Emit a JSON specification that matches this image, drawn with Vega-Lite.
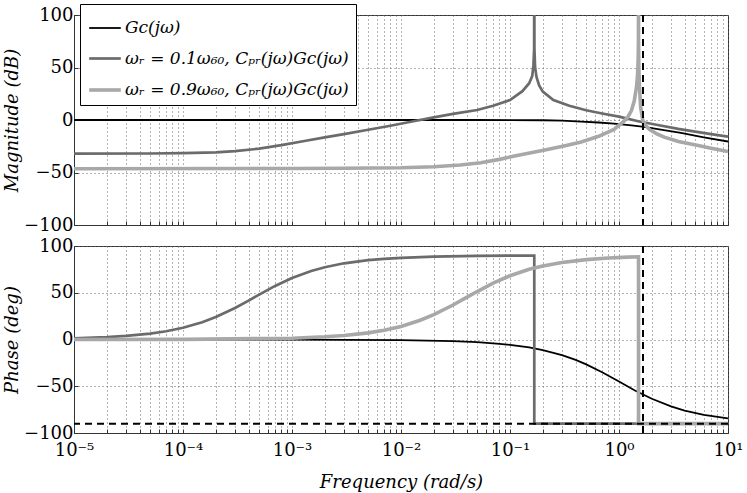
{
  "$schema": "https://vega.github.io/schema/vega-lite/v6.json",
  "padding": {"left": 3, "top": 3, "right": 4, "bottom": 0},
  "background": "white",
  "config": {
    "font": "DejaVu Serif",
    "view": {"stroke": "#333", "strokeWidth": 1},
    "concat": {"spacing": 1},
    "axis": {
      "labelFont": "DejaVu Serif", "labelFontSize": 18, "labelColor": "#000",
      "titleFont": "DejaVu Serif", "titleFontStyle": "italic", "titleFontWeight": "normal",
      "titleFontSize": 18, "titleColor": "#000",
      "gridColor": "#666", "gridDash": [1, 3], "gridOpacity": 1, "gridWidth": 1,
      "domainColor": "#333", "tickColor": "#333", "tickSize": -4
    },
    "legend": {
      "labelFont": "DejaVu Serif", "labelFontSize": 17, "labelFontStyle": "italic", "labelColor": "#000",
      "labelLimit": 500
    }
  },
  "datasets": {
    "mag": [
      {"s": "a", "i": 1, "w": 0.00001, "v": 0},
      {"s": "a", "i": 2, "w": 0.001, "v": 0},
      {"s": "a", "i": 3, "w": 0.05, "v": -0.01},
      {"s": "a", "i": 4, "w": 0.1, "v": -0.05},
      {"s": "a", "i": 5, "w": 0.2, "v": -0.25},
      {"s": "a", "i": 6, "w": 0.3, "v": -0.6},
      {"s": "a", "i": 7, "w": 0.45, "v": -1.5},
      {"s": "a", "i": 8, "w": 0.65, "v": -2.4},
      {"s": "a", "i": 9, "w": 0.9, "v": -3.5},
      {"s": "a", "i": 10, "w": 1.3, "v": -5.1},
      {"s": "a", "i": 11, "w": 1.7, "v": -6.6},
      {"s": "a", "i": 12, "w": 2.5, "v": -9.4},
      {"s": "a", "i": 13, "w": 3.7, "v": -12.3},
      {"s": "a", "i": 14, "w": 6, "v": -16.5},
      {"s": "a", "i": 15, "w": 10, "v": -20.5},

      {"s": "b", "i": 1, "w": 0.00001, "v": -32},
      {"s": "b", "i": 2, "w": 0.00005, "v": -31.9},
      {"s": "b", "i": 3, "w": 0.0001, "v": -31.6},
      {"s": "b", "i": 4, "w": 0.0002, "v": -30.8},
      {"s": "b", "i": 5, "w": 0.0003, "v": -29.7},
      {"s": "b", "i": 6, "w": 0.0005, "v": -27.3},
      {"s": "b", "i": 7, "w": 0.0008, "v": -24},
      {"s": "b", "i": 8, "w": 0.0013, "v": -20},
      {"s": "b", "i": 9, "w": 0.002, "v": -16.5},
      {"s": "b", "i": 10, "w": 0.003, "v": -13.5},
      {"s": "b", "i": 11, "w": 0.005, "v": -9.3},
      {"s": "b", "i": 12, "w": 0.008, "v": -5.5},
      {"s": "b", "i": 13, "w": 0.013, "v": -1.2},
      {"s": "b", "i": 14, "w": 0.02, "v": 2.5},
      {"s": "b", "i": 15, "w": 0.03, "v": 5.8},
      {"s": "b", "i": 16, "w": 0.05, "v": 9.5},
      {"s": "b", "i": 17, "w": 0.07, "v": 13.5},
      {"s": "b", "i": 18, "w": 0.1, "v": 19},
      {"s": "b", "i": 19, "w": 0.13, "v": 27.5},
      {"s": "b", "i": 20, "w": 0.15, "v": 35},
      {"s": "b", "i": 21, "w": 0.16, "v": 42},
      {"s": "b", "i": 22, "w": 0.164, "v": 52},
      {"s": "b", "i": 23, "w": 0.1665, "v": 68},
      {"s": "b", "i": 24, "w": 0.167, "v": 200},
      {"s": "b", "i": 25, "w": 0.1675, "v": 68},
      {"s": "b", "i": 26, "w": 0.17, "v": 50},
      {"s": "b", "i": 27, "w": 0.175, "v": 41},
      {"s": "b", "i": 28, "w": 0.185, "v": 33},
      {"s": "b", "i": 29, "w": 0.2, "v": 27},
      {"s": "b", "i": 30, "w": 0.25, "v": 19},
      {"s": "b", "i": 31, "w": 0.35, "v": 13.5},
      {"s": "b", "i": 32, "w": 0.5, "v": 9.3},
      {"s": "b", "i": 33, "w": 0.7, "v": 6.2},
      {"s": "b", "i": 34, "w": 1, "v": 3.2},
      {"s": "b", "i": 35, "w": 1.5, "v": -1.2},
      {"s": "b", "i": 36, "w": 2.2, "v": -4.5},
      {"s": "b", "i": 37, "w": 3.5, "v": -8.5},
      {"s": "b", "i": 38, "w": 5, "v": -11},
      {"s": "b", "i": 39, "w": 7, "v": -13.5},
      {"s": "b", "i": 40, "w": 10, "v": -15.8},

      {"s": "c", "i": 1, "w": 0.00001, "v": -46.4},
      {"s": "c", "i": 2, "w": 0.001, "v": -46.2},
      {"s": "c", "i": 3, "w": 0.003, "v": -46},
      {"s": "c", "i": 4, "w": 0.01, "v": -45.5},
      {"s": "c", "i": 5, "w": 0.02, "v": -44.5},
      {"s": "c", "i": 6, "w": 0.035, "v": -42.8},
      {"s": "c", "i": 7, "w": 0.054, "v": -40.7},
      {"s": "c", "i": 8, "w": 0.08, "v": -37.5},
      {"s": "c", "i": 9, "w": 0.11, "v": -34.3},
      {"s": "c", "i": 10, "w": 0.16, "v": -31},
      {"s": "c", "i": 11, "w": 0.22, "v": -28},
      {"s": "c", "i": 12, "w": 0.32, "v": -24.5},
      {"s": "c", "i": 13, "w": 0.45, "v": -21},
      {"s": "c", "i": 14, "w": 0.65, "v": -15.5},
      {"s": "c", "i": 15, "w": 0.9, "v": -9},
      {"s": "c", "i": 16, "w": 1.0, "v": -5},
      {"s": "c", "i": 17, "w": 1.1, "v": -1.5},
      {"s": "c", "i": 18, "w": 1.2, "v": 2.5},
      {"s": "c", "i": 19, "w": 1.3, "v": 9},
      {"s": "c", "i": 20, "w": 1.38, "v": 18},
      {"s": "c", "i": 21, "w": 1.45, "v": 32},
      {"s": "c", "i": 22, "w": 1.48, "v": 43},
      {"s": "c", "i": 23, "w": 1.5, "v": 58},
      {"s": "c", "i": 24, "w": 1.508, "v": 75},
      {"s": "c", "i": 25, "w": 1.51, "v": 200},
      {"s": "c", "i": 26, "w": 1.512, "v": 75},
      {"s": "c", "i": 27, "w": 1.52, "v": 50},
      {"s": "c", "i": 28, "w": 1.54, "v": 32},
      {"s": "c", "i": 29, "w": 1.58, "v": 12},
      {"s": "c", "i": 30, "w": 1.65, "v": 0},
      {"s": "c", "i": 31, "w": 1.75, "v": -5},
      {"s": "c", "i": 32, "w": 1.9, "v": -9},
      {"s": "c", "i": 33, "w": 2.2, "v": -13},
      {"s": "c", "i": 34, "w": 2.6, "v": -16.3},
      {"s": "c", "i": 35, "w": 3.5, "v": -20.5},
      {"s": "c", "i": 36, "w": 5.2, "v": -24},
      {"s": "c", "i": 37, "w": 7, "v": -26.8},
      {"s": "c", "i": 38, "w": 10, "v": -30}
    ],
    "phase": [
      {"s": "a", "i": 1, "w": 0.00001, "v": 0},
      {"s": "a", "i": 2, "w": 0.001, "v": -0.06},
      {"s": "a", "i": 3, "w": 0.01, "v": -0.6},
      {"s": "a", "i": 4, "w": 0.03, "v": -1.7},
      {"s": "a", "i": 5, "w": 0.05, "v": -2.9},
      {"s": "a", "i": 6, "w": 0.08, "v": -4.6},
      {"s": "a", "i": 7, "w": 0.1, "v": -5.7},
      {"s": "a", "i": 8, "w": 0.15, "v": -8.5},
      {"s": "a", "i": 9, "w": 0.2, "v": -11.3},
      {"s": "a", "i": 10, "w": 0.3, "v": -16.7},
      {"s": "a", "i": 11, "w": 0.4, "v": -21.8},
      {"s": "a", "i": 12, "w": 0.5, "v": -26.6},
      {"s": "a", "i": 13, "w": 0.7, "v": -35},
      {"s": "a", "i": 14, "w": 1, "v": -45},
      {"s": "a", "i": 15, "w": 1.4, "v": -54.5},
      {"s": "a", "i": 16, "w": 2, "v": -63.4},
      {"s": "a", "i": 17, "w": 3, "v": -71.6},
      {"s": "a", "i": 18, "w": 4, "v": -76},
      {"s": "a", "i": 19, "w": 6, "v": -80.5},
      {"s": "a", "i": 20, "w": 10, "v": -84.3},

      {"s": "b", "i": 1, "w": 0.00001, "v": 1.3},
      {"s": "b", "i": 2, "w": 0.000015, "v": 1.9},
      {"s": "b", "i": 3, "w": 0.00002, "v": 2.5},
      {"s": "b", "i": 4, "w": 0.00003, "v": 3.8},
      {"s": "b", "i": 5, "w": 0.00005, "v": 6.3},
      {"s": "b", "i": 6, "w": 0.00007, "v": 8.8},
      {"s": "b", "i": 7, "w": 0.0001, "v": 12.5},
      {"s": "b", "i": 8, "w": 0.00015, "v": 18.4},
      {"s": "b", "i": 9, "w": 0.0002, "v": 24},
      {"s": "b", "i": 10, "w": 0.0003, "v": 33.7},
      {"s": "b", "i": 11, "w": 0.0004, "v": 41.6},
      {"s": "b", "i": 12, "w": 0.0005, "v": 48},
      {"s": "b", "i": 13, "w": 0.0007, "v": 57.3},
      {"s": "b", "i": 14, "w": 0.001, "v": 65.8},
      {"s": "b", "i": 15, "w": 0.0015, "v": 73.3},
      {"s": "b", "i": 16, "w": 0.002, "v": 77.3},
      {"s": "b", "i": 17, "w": 0.003, "v": 81.5},
      {"s": "b", "i": 18, "w": 0.005, "v": 84.9},
      {"s": "b", "i": 19, "w": 0.007, "v": 86.3},
      {"s": "b", "i": 20, "w": 0.01, "v": 87.4},
      {"s": "b", "i": 21, "w": 0.02, "v": 88.7},
      {"s": "b", "i": 22, "w": 0.05, "v": 89.5},
      {"s": "b", "i": 23, "w": 0.167, "v": 89.8},
      {"s": "b", "i": 24, "w": 0.167, "v": -90},
      {"s": "b", "i": 25, "w": 1, "v": -90},
      {"s": "b", "i": 26, "w": 10, "v": -90},

      {"s": "c", "i": 1, "w": 0.00001, "v": 0},
      {"s": "c", "i": 2, "w": 0.0001, "v": 0.1},
      {"s": "c", "i": 3, "w": 0.001, "v": 1.4},
      {"s": "c", "i": 4, "w": 0.002, "v": 2.9},
      {"s": "c", "i": 5, "w": 0.003, "v": 4.3},
      {"s": "c", "i": 6, "w": 0.005, "v": 7.1},
      {"s": "c", "i": 7, "w": 0.007, "v": 9.9},
      {"s": "c", "i": 8, "w": 0.01, "v": 14},
      {"s": "c", "i": 9, "w": 0.015, "v": 20.6},
      {"s": "c", "i": 10, "w": 0.02, "v": 26.6},
      {"s": "c", "i": 11, "w": 0.03, "v": 36.9},
      {"s": "c", "i": 12, "w": 0.04, "v": 45},
      {"s": "c", "i": 13, "w": 0.05, "v": 51.3},
      {"s": "c", "i": 14, "w": 0.07, "v": 60.3},
      {"s": "c", "i": 15, "w": 0.1, "v": 68.2},
      {"s": "c", "i": 16, "w": 0.15, "v": 75.1},
      {"s": "c", "i": 17, "w": 0.2, "v": 78.7},
      {"s": "c", "i": 18, "w": 0.3, "v": 82.4},
      {"s": "c", "i": 19, "w": 0.5, "v": 85.4},
      {"s": "c", "i": 20, "w": 0.8, "v": 87.1},
      {"s": "c", "i": 21, "w": 1.2, "v": 88.1},
      {"s": "c", "i": 22, "w": 1.51, "v": 88.5},
      {"s": "c", "i": 23, "w": 1.51, "v": -90},
      {"s": "c", "i": 24, "w": 10, "v": -90}
    ]
  },
  "vconcat": [
    {
      "width": 654,
      "height": 210,
      "layer": [
        {
          "data": {"name": "mag"},
          "mark": {"type": "line", "clip": true},
          "encoding": {
            "x": {
              "field": "w", "type": "quantitative",
              "scale": {"type": "log", "domain": [0.00001, 10]},
              "axis": {
                "title": null, "labels": false, "labelOverlap": false, "labelPadding": 0,
                "values": [0.00001,0.00002,0.00003,0.00004,0.00005,0.00006,0.00007,0.00008,0.00009,0.0001,0.0002,0.0003,0.0004,0.0005,0.0006,0.0007,0.0008,0.0009,0.001,0.002,0.003,0.004,0.005,0.006,0.007,0.008,0.009,0.01,0.02,0.03,0.04,0.05,0.06,0.07,0.08,0.09,0.1,0.2,0.3,0.4,0.5,0.6,0.7,0.8,0.9,1,2,3,4,5,6,7,8,9,10]
              }
            },
            "y": {
              "field": "v", "type": "quantitative",
              "scale": {"domain": [-100, 100], "nice": false},
              "axis": {"title": "Magnitude (dB)", "values": [-100, -50, 0, 50, 100], "labelPadding": 5, "titlePadding": 2}
            },
            "color": {
              "field": "s", "type": "nominal",
              "scale": {"domain": ["a", "b", "c"], "range": ["#000000", "#6b6b6b", "#a8a8a8"]},
              "legend": {
                "title": null, "orient": "none", "legendX": 6, "legendY": -11,
                "strokeColor": "#000", "fillColor": "#ffffff", "padding": 7,
                "symbolType": "stroke", "symbolSize": 1000, "rowPadding": 5, "labelOffset": 2,
                "labelExpr": "datum.value == 'a' ? 'Gc(jω)' : datum.value == 'b' ? 'ωᵣ = 0.1ω₆₀, Cₚᵣ(jω)Gc(jω)' : 'ωᵣ = 0.9ω₆₀, Cₚᵣ(jω)Gc(jω)'"
              }
            },
            "strokeWidth": {
              "field": "s", "type": "nominal",
              "scale": {"domain": ["a", "b", "c"], "range": [1.8, 3.6, 3.6]}
            },
            "order": {"field": "i", "type": "quantitative"}
          }
        },
        {
          "data": {"values": [{"w": 1.66}]},
          "mark": {"type": "rule", "strokeDash": [7, 5], "strokeWidth": 2, "color": "#000"},
          "encoding": {"x": {"field": "w", "type": "quantitative"}}
        }
      ]
    },
    {
      "width": 654,
      "height": 187,
      "layer": [
        {
          "data": {"name": "phase"},
          "mark": {"type": "line", "clip": true},
          "encoding": {
            "x": {
              "field": "w", "type": "quantitative",
              "scale": {"type": "log", "domain": [0.00001, 10]},
              "axis": {
                "title": "Frequency (rad/s)", "labelOverlap": false, "labelFlush": false, "labelPadding": 12, "titlePadding": 14,
                "values": [0.00001,0.00002,0.00003,0.00004,0.00005,0.00006,0.00007,0.00008,0.00009,0.0001,0.0002,0.0003,0.0004,0.0005,0.0006,0.0007,0.0008,0.0009,0.001,0.002,0.003,0.004,0.005,0.006,0.007,0.008,0.009,0.01,0.02,0.03,0.04,0.05,0.06,0.07,0.08,0.09,0.1,0.2,0.3,0.4,0.5,0.6,0.7,0.8,0.9,1,2,3,4,5,6,7,8,9,10],
                "labelExpr": "abs(log(datum.value)/LN10 - round(log(datum.value)/LN10)) < 0.001 ? ['10⁻⁵','10⁻⁴','10⁻³','10⁻²','10⁻¹','10⁰','10¹'][round(log(datum.value)/LN10)+5] : ''"
              }
            },
            "y": {
              "field": "v", "type": "quantitative",
              "scale": {"domain": [-100, 100], "nice": false},
              "axis": {"title": "Phase (deg)", "values": [-100, -50, 0, 50, 100], "labelPadding": 5, "titlePadding": 2}
            },
            "color": {
              "field": "s", "type": "nominal",
              "scale": {"domain": ["a", "b", "c"], "range": ["#000000", "#6b6b6b", "#a8a8a8"]},
              "legend": null
            },
            "strokeWidth": {
              "field": "s", "type": "nominal",
              "scale": {"domain": ["a", "b", "c"], "range": [1.8, 3.6, 3.6]},
              "legend": null
            },
            "order": {"field": "i", "type": "quantitative"}
          }
        },
        {
          "data": {"values": [{"w": 1.66}]},
          "mark": {"type": "rule", "strokeDash": [7, 5], "strokeWidth": 2, "color": "#000"},
          "encoding": {"x": {"field": "w", "type": "quantitative"}}
        },
        {
          "data": {"values": [{"p": -90}]},
          "mark": {"type": "rule", "strokeDash": [7, 5], "strokeWidth": 2, "color": "#000"},
          "encoding": {"y": {"field": "p", "type": "quantitative"}}
        }
      ]
    }
  ],
  "resolve": {"scale": {"color": "independent", "strokeWidth": "independent"}}
}
